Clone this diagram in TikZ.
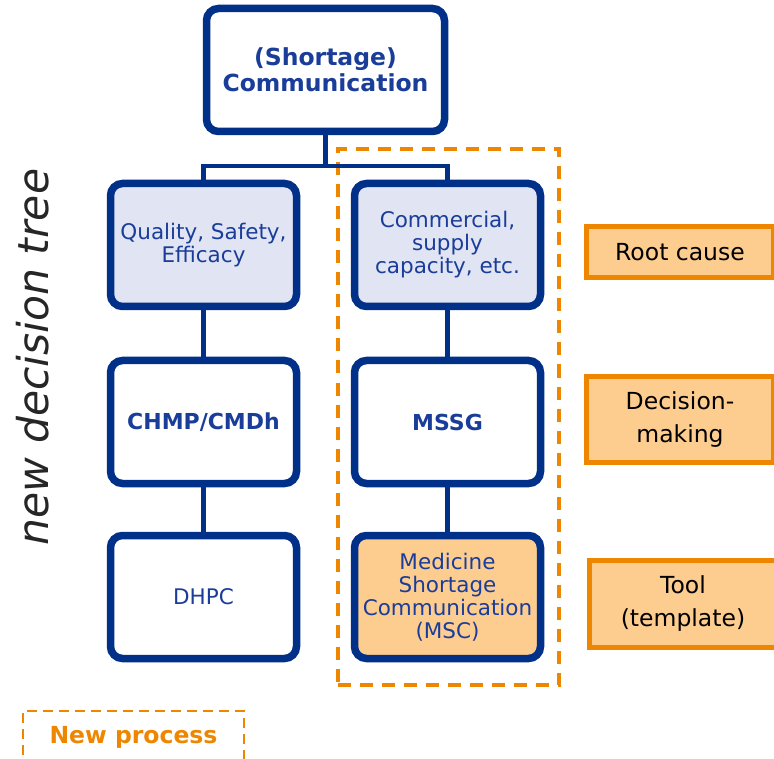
\documentclass[tikz,border=0pt]{standalone}
\usepackage{fontspec}
\setmainfont{DejaVu Sans}
\usetikzlibrary{shadows}
\definecolor{navy}{HTML}{003087}
\definecolor{navytext}{HTML}{1A3D99}
\definecolor{lav}{HTML}{E1E4F3}
\definecolor{org}{HTML}{EE8600}
\definecolor{orgfill}{HTML}{FDCC8F}
\tikzset{
  treebox/.style={draw=navy, line width=7.5pt, rounded corners=12pt, align=center,
    minimum width=186pt, minimum height=123pt, text=navytext, font=\fontsize{21.5}{23}\selectfont,
    drop shadow={opacity=0.25, shadow xshift=2pt, shadow yshift=-3pt, fill=black}},
  link/.style={draw=navy, line width=4.5pt},
  tag/.style={draw=org, fill=orgfill, line width=5pt, align=center, text=black,
    minimum width=187pt, font=\fontsize{23.5}{33}\selectfont},
}
\begin{document}
\begin{tikzpicture}[x=1pt,y=-1pt]
\useasboundingbox (0,0) rectangle (774,759);
% dashed new-process frame
\node[draw=org, line width=4pt, dash pattern=on 13pt off 9pt, minimum width=221pt, minimum height=535pt] (frame) at (448,417) {};
% tree nodes
\node[treebox, fill=white, minimum width=238pt, font=\bfseries\fontsize{23.5}{26}\selectfont] (top) at (325.5,70) {(Shortage)\\Communication};
\node[treebox, fill=lav] (qse) at (203.5,245) {Quality, Safety,\\Efficacy};
\node[treebox, fill=lav] (csc) at (447.5,245) {Commercial,\\supply\\capacity, etc.};
\node[treebox, fill=white, font=\bfseries\fontsize{22}{23}\selectfont] (chmp) at (203.5,422) {CHMP/CMDh};
\node[treebox, fill=white, font=\bfseries\fontsize{22}{23}\selectfont] (mssg) at (447.5,422) {MSSG};
\node[treebox, fill=white] (dhpc) at (203.5,597) {DHPC};
\node[treebox, fill=orgfill] (msc) at (447.5,597) {Medicine\\Shortage\\Communication\\(MSC)};
% connectors
\coordinate (j) at (325.5,166);
\draw[link] (top.south) -- (j);
\draw[link, line join=miter] (qse.north) |- (j) -| (csc.north);
\draw[link] (qse.south) -- (chmp.north);
\draw[link] (chmp.south) -- (dhpc.north);
\draw[link] (csc.south) -- (mssg.north);
\draw[link] (mssg.south) -- (msc.north);
% side tags
\node[tag, minimum height=51pt] (root) at (680,252) {Root cause};
\node[tag, minimum height=86pt] (dec) at (680,419.5) {Decision-\\making};
\node[tag, minimum height=87pt] (tool) at (683,604) {Tool\\(template)};
% vertical title
\node[rotate=90, font=\itshape\fontsize{42.5}{46}\selectfont, text=black!85] (title) at (33,357) {new decision tree};
% legend
\node[draw=org, line width=2.5pt, dash pattern=on 10pt off 6pt, minimum width=221pt, minimum height=52pt,
  text=org, font=\bfseries\fontsize{23.5}{26}\selectfont] (legend) at (133.5,737) {New process};
\end{tikzpicture}
\end{document}
